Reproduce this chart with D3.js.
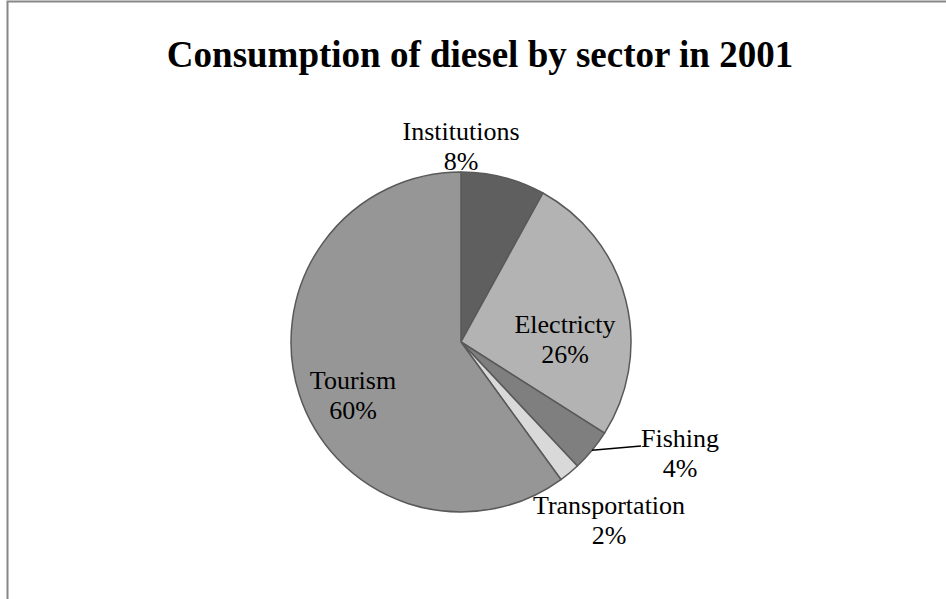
<!DOCTYPE html>
<html><head><meta charset="utf-8">
<script src="https://cdn.jsdelivr.net/npm/d3@7"></script>
<style>body{margin:0;background:#fff}svg{display:block}</style>
</head><body>
<svg id="c" width="946" height="599"></svg>
<script>
const categories = ["Institutions","Electricty","Fishing","Transportation","Tourism"];
const values = [8,26,4,2,60];
const colors = ["#5f5f5f","#b3b3b3","#7f7f7f","#d9d9d9","#969696"];
const labels = ["8%","26%","4%","2%","60%"];

const svg = d3.select("#c");
svg.append("path").attr("d","M7.5,599 L7.5,1.5 L946,1.5").attr("fill","none").attr("stroke","#878787").attr("stroke-width",2);

svg.append("text").attr("x",480).attr("y",67).attr("text-anchor","middle")
  .attr("font-family","Liberation Serif, Times New Roman, serif").attr("font-weight","bold")
  .attr("font-size",37).text("Consumption of diesel by sector in 2001");

const cx=461, cy=342, r=170;
const data = categories.map((c,i)=>({name:c,value:values[i],color:colors[i],label:labels[i]}));
const pie = d3.pie().value(d=>d.value).sort(null);
const arc = d3.arc().innerRadius(0).outerRadius(r);
const g = svg.append("g").attr("transform",`translate(${cx},${cy})`);
const arcs = pie(data);
g.selectAll("path").data(arcs).enter().append("path")
  .attr("d",arc).attr("fill",d=>d.data.color).attr("stroke","#595959").attr("stroke-width",1.5).attr("stroke-linejoin","round");

// label anchor offsets from pie center
const labelPos = {
  "Institutions":[0,-202],
  "Electricty":[104,-9],
  "Fishing":[219,105],
  "Transportation":[148,172],
  "Tourism":[-108,47]
};
const lbl = svg.append("g").attr("font-family","Liberation Serif, Times New Roman, serif").attr("font-size",26).attr("fill","#000");
arcs.forEach(a=>{
  const p = labelPos[a.data.name];
  const t = lbl.append("text").attr("text-anchor","middle").attr("transform",`translate(${cx+p[0]},${cy+p[1]})`);
  t.append("tspan").attr("x",0).attr("y",0).text(a.data.name);
  t.append("tspan").attr("x",0).attr("y",30).text(a.data.label);
});
// leader line for Fishing
const fa = arcs[2];
const mid = (fa.startAngle+fa.endAngle)/2;
const sx = cx + Math.sin(mid)*r, sy = cy - Math.cos(mid)*r;
svg.append("path").attr("d",`M${sx},${sy} L${cx+180},${cy+104}`).attr("stroke","#000").attr("stroke-width",1.5).attr("fill","none");
</script>
</body></html>
